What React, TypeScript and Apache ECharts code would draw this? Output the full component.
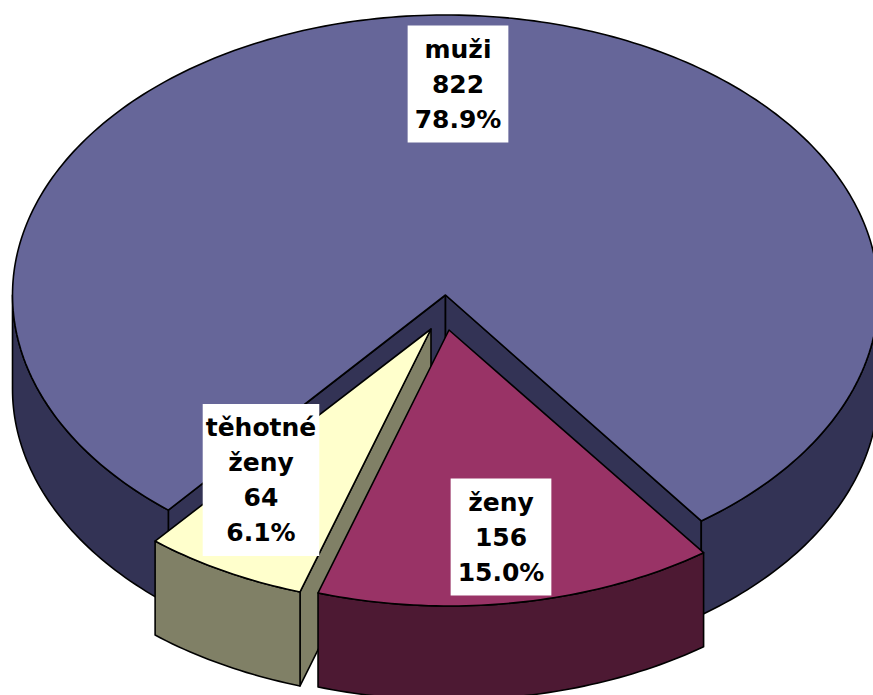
import React, { useEffect, useRef } from "react";
import * as echarts from "echarts";

const categories = ["muži", "ženy", "těhotné ženy"];
const values = [822, 156, 64];

const topColors = ["#666699", "#993366", "#FFFFCC"];
const sideColors = ["#333355", "#4D1933", "#808066"];
const drawOrder = [0, 2, 1];
const startAngle = 129.8;
const depth = 94;
const FONT = 'bold 25px "DejaVu Sans", sans-serif';
const geometry = [
  { cx: 445.5, cy: 295, rx: 433, ry: 280, labelX: 458, labelY: 84, padX: 7 },
  { cx: 449, cy: 330, rx: 431, ry: 276, labelX: 501, labelY: 537, padX: 7 },
  { cx: 431, cy: 329, rx: 431, ry: 276, labelX: 261, labelY: 480, padX: 3 },
];

const total = values.reduce((a, b) => a + b, 0);
const rad = (d: number) => (d * Math.PI) / 180;

function sweep(index: number) {
  let a = startAngle;
  for (let i = 0; i < index; i++) a += (values[i] / total) * 360;
  return [a, a + (values[index] / total) * 360];
}

function arcPoints(g: any, a: number, b: number, dy = 0) {
  const pts: number[][] = [];
  const n = Math.max(2, Math.ceil((b - a) / 1));
  for (let i = 0; i <= n; i++) {
    const t = rad(a + ((b - a) * i) / n);
    pts.push([g.cx + g.rx * Math.cos(t), g.cy + g.ry * Math.sin(t) + dy]);
  }
  return pts;
}

function renderItem(_params: any, api: any) {
  const idx = api.value(0) as number;
  const g = geometry[idx];
  const [a, b] = sweep(idx);
  const base = drawOrder.indexOf(idx) * 10;
  const line = { stroke: "#000", lineWidth: 1.6, lineJoin: "round" };
  const children: any[] = [];

  const poly = (points: number[][], fill: string, z: number) =>
    children.push({
      type: "polygon",
      z2: base + z,
      shape: { points },
      style: { fill, ...line },
    });

  // cut walls: a wall shows only when its outward side faces the viewer
  const wall = (ang: number) => {
    const px = g.cx + g.rx * Math.cos(rad(ang));
    const py = g.cy + g.ry * Math.sin(rad(ang));
    poly(
      [
        [g.cx, g.cy],
        [px, py],
        [px, py + depth],
        [g.cx, g.cy + depth],
      ],
      sideColors[idx],
      1,
    );
  };
  if (Math.cos(rad(a)) < 0) wall(a);
  if (Math.cos(rad(b)) > 0) wall(b);

  // rim: only the parts of the arc on the front half of the ellipse
  for (const k of [0, 360]) {
    const from = Math.max(a, k);
    const to = Math.min(b, k + 180);
    if (to > from) {
      const top = arcPoints(g, from, to);
      const bottom = arcPoints(g, from, to, depth).reverse();
      poly([...top, ...bottom], sideColors[idx], 2);
    }
  }

  // top face
  poly([[g.cx, g.cy], ...arcPoints(g, a, b)], topColors[idx], 3);

  const pct = ((api.value(1) as number) / total) * 100;
  children.push({
    type: "text",
    z2: 1000,
    style: {
      text: `${categories[idx].replace(" ", "\n")}\n${api.value(1)}\n${pct.toFixed(1)}%`,
      x: g.labelX,
      y: g.labelY,
      align: "center",
      verticalAlign: "middle",
      font: FONT,
      fill: "#000",
      lineHeight: 35,
      backgroundColor: "#fff",
      padding: [6, g.padX, 6, g.padX],
    },
  });

  return { type: "group", children };
}

export default function App() {
  const ref = useRef<HTMLDivElement>(null);
  useEffect(() => {
    const chart = echarts.init(ref.current!, null, { renderer: "svg" });
    chart.setOption({
      animation: false,
      backgroundColor: "#fff",
      series: [
        {
          type: "custom",
          coordinateSystem: "none",
          renderItem,
          clip: false,
          silent: true,
          data: drawOrder.map((i) => [i, values[i]]),
        },
      ],
    });
    return () => chart.dispose();
  }, []);
  return (
    <div
      ref={ref}
      style={{ position: "absolute", left: 0, top: 0, width: 873, height: 695 }}
    />
  );
}
